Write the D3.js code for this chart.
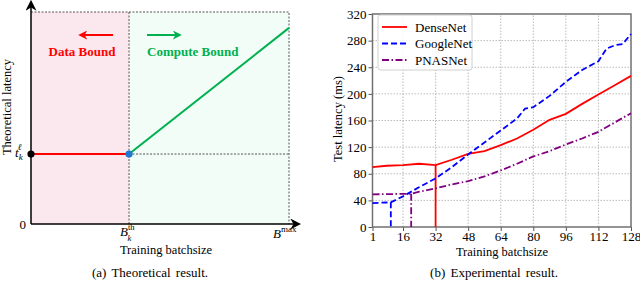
<!DOCTYPE html>
<meta charset="utf-8">
<style>
  body { margin: 0; background: #fff; }
  svg { font-family: "Liberation Serif", "Times New Roman", serif; }
</style>
<script src="https://d3js.org/d3.v7.min.js"></script>
<div id="chart"></div>
<script>

// ---- (a) theoretical sketch, normalised units
var theoBreak = 0.38;      // B_k^th as a fraction of B^max
var theoFloor = 0.33;      // t_k^l
var theoTop = 0.925;       // latency at B^max
var flatX = [0, theoBreak], flatY = [theoFloor, theoFloor];
var riseX = [theoBreak, 1], riseY = [theoFloor, theoTop];

// ---- (b) experimental results
var xTicks = [1, 16, 32, 48, 64, 80, 96, 112, 128];
var yTicks = [0, 40, 80, 120, 160, 200, 240, 280, 320];
var seriesNames = ["DenseNet", "GoogleNet", "PNASNet"];
var denseX = [1, 8, 16, 24, 32, 40, 48, 56, 64, 72, 80, 88, 96, 104, 112, 120, 128];
var denseY = [90, 92, 93, 95, 93, 101, 110, 114, 123, 133, 146, 161, 170, 185, 199, 213, 227];
var googleX = [1, 10, 16, 24, 32, 40, 48, 56, 64, 72, 76, 80, 88, 96, 104, 112, 116, 120, 124, 128];
var googleY = [36, 37, 46, 60, 73, 90, 109, 127, 145, 163, 178, 180, 197, 218, 236, 249, 268, 273, 275, 290];
var pnasX = [1, 20, 24, 32, 40, 48, 56, 64, 72, 80, 88, 96, 104, 112, 120, 128];
var pnasY = [49, 50, 53, 58, 64, 69, 76, 85, 95, 106, 114, 124, 133, 143, 157, 171];
var dropX = [32, 10, 20];   // threshold batch size of each model

var width = 640, height = 281;
var svg = d3.select("#chart").append("svg")
    .attr("width", width).attr("height", height);

// ================= left panel =================
var xL = d3.scaleLinear([0, 1], [31, 289]);
var yL = d3.scaleLinear([0, 1], [224, 12]);

svg.append("rect").attr("x", xL(0)).attr("y", yL(1))
  .attr("width", xL(theoBreak) - xL(0)).attr("height", yL(0) - yL(1))
  .attr("fill", "#fbe8ee");
svg.append("rect").attr("x", xL(theoBreak)).attr("y", yL(1))
  .attr("width", xL(1) - xL(theoBreak)).attr("height", yL(0) - yL(1))
  .attr("fill", "#f1fdf6");

var dotted = svg.append("g").attr("stroke", "#555").attr("stroke-width", 1)
  .attr("stroke-dasharray", "2,1.5").attr("fill", "none");
dotted.append("path").attr("d", d3.line()([[xL(0), yL(1)], [xL(1), yL(1)], [xL(1), yL(0)]]));
dotted.append("line").attr("x1", xL(theoBreak)).attr("x2", xL(theoBreak))
  .attr("y1", yL(1)).attr("y2", yL(0));
dotted.append("line").attr("x1", xL(theoBreak)).attr("x2", xL(1))
  .attr("y1", yL(theoFloor)).attr("y2", yL(theoFloor));

var defs = svg.append("defs");
function arrowMarker(id, color, size) {
  defs.append("marker").attr("id", id)
    .attr("viewBox", "0 0 10 10").attr("refX", 8).attr("refY", 5)
    .attr("markerWidth", size).attr("markerHeight", size)
    .attr("markerUnits", "userSpaceOnUse")
    .attr("orient", "auto")
    .append("path").attr("d", "M0,0 L10,5 L0,10 L3,5 Z").attr("fill", color);
}
arrowMarker("ax", "#000", 11);
arrowMarker("ar", "#ff0000", 9);
arrowMarker("ag", "#00b050", 9);

// axes with arrow heads
svg.append("line").attr("x1", xL(0)).attr("y1", yL(0)).attr("x2", xL(0)).attr("y2", 2)
  .attr("stroke", "#000").attr("stroke-width", 1.5).attr("marker-end", "url(#ax)");
svg.append("line").attr("x1", xL(0)).attr("y1", yL(0)).attr("x2", 299).attr("y2", yL(0))
  .attr("stroke", "#000").attr("stroke-width", 1.5).attr("marker-end", "url(#ax)");

var lineL = d3.line().x(d => xL(d[0])).y(d => yL(d[1]));
svg.append("path").attr("d", lineL(d3.zip(flatX, flatY)))
  .attr("stroke", "#ff0000").attr("stroke-width", 2).attr("fill", "none");
svg.append("path").attr("d", lineL(d3.zip(riseX, riseY)))
  .attr("stroke", "#00b050").attr("stroke-width", 2).attr("fill", "none");
svg.append("circle").attr("cx", xL(0)).attr("cy", yL(theoFloor)).attr("r", 3.6).attr("fill", "#000");
svg.append("circle").attr("cx", xL(theoBreak)).attr("cy", yL(theoFloor)).attr("r", 3.6).attr("fill", "#1f78d1");

// region arrows + labels
svg.append("line").attr("x1", xL(theoBreak) - 16).attr("x2", xL(theoBreak) - 49)
  .attr("y1", 35).attr("y2", 35).attr("stroke", "#ff0000").attr("stroke-width", 2)
  .attr("marker-end", "url(#ar)");
svg.append("line").attr("x1", xL(theoBreak) + 18).attr("x2", xL(theoBreak) + 51)
  .attr("y1", 35).attr("y2", 35).attr("stroke", "#00b050").attr("stroke-width", 2)
  .attr("marker-end", "url(#ag)");
svg.append("text").attr("x", 82).attr("y", 56).attr("text-anchor", "middle")
  .attr("font-size", 13).attr("font-weight", "bold").attr("fill", "#ff0000").text("Data Bound");
svg.append("text").attr("x", 147).attr("y", 56)
  .attr("font-size", 13).attr("font-weight", "bold").attr("fill", "#00b050").text("Compute Bound");

// left tick labels
svg.append("text").attr("x", 26).attr("y", yL(0) + 5).attr("text-anchor", "end")
  .attr("font-size", 13).text("0");
var tk = svg.append("text").attr("x", 15).attr("y", yL(theoFloor) + 3).attr("font-size", 13);
tk.append("tspan").attr("font-style", "italic").text("t");
tk.append("tspan").attr("font-style", "italic").attr("font-size", 9).attr("dx", 0).attr("dy", 3).text("k");
tk.append("tspan").attr("font-style", "italic").attr("font-size", 9).attr("dx", -5).attr("dy", -10).text("ℓ");

var bth = svg.append("text").attr("x", xL(theoBreak) - 9).attr("y", 236).attr("font-size", 13);
bth.append("tspan").attr("font-style", "italic").text("B");
bth.append("tspan").attr("font-size", 8.5).attr("dy", -6).text("th");
bth.append("tspan").attr("font-style", "italic").attr("font-size", 8.5).attr("dx", -7).attr("dy", 11).text("k");

var bmax = svg.append("text").attr("x", 273).attr("y", 238).attr("font-size", 13);
bmax.append("tspan").attr("font-style", "italic").text("B");
bmax.append("tspan").attr("font-size", 9).attr("dy", -6).text("max");

svg.append("text").attr("x", 166).attr("y", 254).attr("text-anchor", "middle")
  .attr("font-size", 12.5).text("Training batchsize");
svg.append("text").attr("transform", "translate(11,107) rotate(-90)")
  .attr("text-anchor", "middle").attr("font-size", 12.5).text("Theoretical latency");
svg.append("text").attr("x", 150).attr("y", 277).attr("text-anchor", "middle")
  .attr("font-size", 13).attr("word-spacing", 2).text("(a) Theoretical result.");

// ================= right panel =================
var x = d3.scaleLinear([1, 128], [372.5, 631]);
var y = d3.scaleLinear([0, 320], [227, 14]);

var grid = svg.append("g").attr("stroke", "#b4b4b4").attr("stroke-width", 0.9)
  .attr("stroke-dasharray", "1.5,1.5");
grid.selectAll(".gx").data(xTicks.slice(1, -1)).join("line")
  .attr("x1", d => x(d)).attr("x2", d => x(d)).attr("y1", y(0)).attr("y2", y(320));
grid.selectAll(".gy").data(yTicks.slice(1, -1)).join("line")
  .attr("y1", d => y(d)).attr("y2", d => y(d)).attr("x1", x(1)).attr("x2", x(128));

var xAxis = svg.append("g").attr("transform", `translate(0,${y(0)})`)
  .call(d3.axisBottom(x).tickValues(xTicks).tickSize(4).tickPadding(1));
var yAxis = svg.append("g").attr("transform", `translate(${x(1)},0)`)
  .call(d3.axisLeft(y).tickValues(yTicks).tickSize(4).tickPadding(2));
[xAxis, yAxis].forEach(a => {
  a.select(".domain").remove();
  a.selectAll("line").attr("stroke", "#555");
  a.selectAll("text").attr("font-size", 13).attr("fill", "#000")
    .attr("font-family", "Liberation Serif, Times New Roman, serif");
});

svg.append("rect").attr("x", x(1)).attr("y", y(320))
  .attr("width", x(128) - x(1)).attr("height", y(0) - y(320))
  .attr("fill", "none").attr("stroke", "#707070").attr("stroke-width", 1.5);

var colors = ["#ff0000", "#0000ff", "#800080"];
var dashes = [null, "6,3", "7,2.5,1.5,2.5"];
var xs = [denseX, googleX, pnasX], ys = [denseY, googleY, pnasY];
var line = d3.line().x(d => x(d[0])).y(d => y(d[1]));

seriesNames.forEach((name, i) => {
  var pts = d3.zip(xs[i], ys[i]);
  var k = xs[i].indexOf(dropX[i]);
  svg.append("path").attr("d", line(pts))
    .attr("fill", "none").attr("stroke", colors[i]).attr("stroke-width", 1.8)
    .attr("stroke-dasharray", dashes[i]);
  svg.append("path").attr("d", line([[dropX[i], ys[i][k]], [dropX[i], 0]]))
    .attr("fill", "none").attr("stroke", colors[i]).attr("stroke-width", 1.8)
    .attr("stroke-dasharray", dashes[i]);
});

// legend
var lg = svg.append("g").attr("transform", "translate(378,15)");
lg.append("rect").attr("width", 94).attr("height", 55).attr("rx", 2.5)
  .attr("fill", "#fff").attr("fill-opacity", 0.85).attr("stroke", "#d0d0d0");
seriesNames.forEach((name, i) => {
  var yy = 12 + i * 16.5;
  lg.append("line").attr("x1", 4).attr("x2", 29).attr("y1", yy).attr("y2", yy)
    .attr("stroke", colors[i]).attr("stroke-width", 1.8).attr("stroke-dasharray", dashes[i]);
  lg.append("text").attr("x", 37).attr("y", yy + 4.5).attr("font-size", 13).text(name);
});

svg.append("text").attr("x", 502).attr("y", 256).attr("text-anchor", "middle")
  .attr("font-size", 12.5).text("Training batchsize");
svg.append("text").attr("transform", "translate(342,119) rotate(-90)")
  .attr("text-anchor", "middle").attr("font-size", 12.5).text("Test latency (ms)");
svg.append("text").attr("x", 494).attr("y", 277).attr("text-anchor", "middle")
  .attr("font-size", 13).attr("word-spacing", 2).text("(b) Experimental result.");
</script>
